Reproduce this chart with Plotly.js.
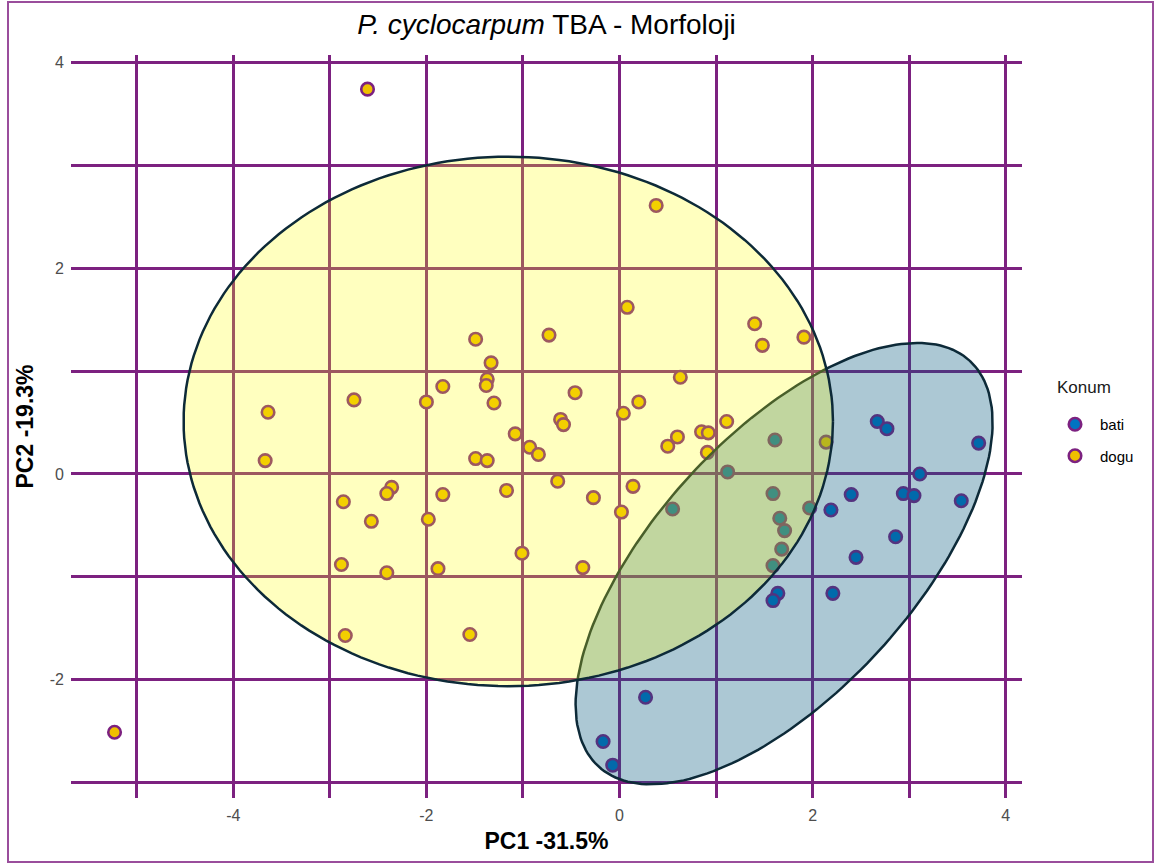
<!DOCTYPE html>
<html>
<head>
<meta charset="utf-8">
<script src="https://cdn.plot.ly/plotly-3.0.1.min.js"></script>
<style>
  html, body { margin: 0; padding: 0; background: #ffffff; }
  #chart { width: 1157px; height: 865px; }
</style>
</head>
<body>
<div id="chart"></div>
<script>
// PCA scores, group "bati"
const batiPC1 = [0.55, 1.12, 1.61, 1.59, 1.97, 1.66, 1.71, 1.68, 1.59, 1.64, 1.59, 2.21, 2.19,
                 2.40, 2.67, 2.77, 3.72, 3.11, 2.94, 3.05, 3.54, 2.86, 2.45, 0.27, -0.17, -0.07];
const batiPC2 = [-0.34, 0.02, 0.33, -0.19, -0.33, -0.43, -0.55, -0.73, -0.89, -1.16, -1.23, -1.16, -0.35,
                 -0.20, 0.51, 0.44, 0.30, 0.00, -0.19, -0.21, -0.26, -0.61, -0.81, -2.17, -2.60, -2.83];

// PCA scores, group "dogu"
const doguPC1 = [-2.61, 0.38, -3.64, -3.67, -2.75, -2.86, -2.57, -2.36, -2.41, -2.88, -2.41, -2.84,
                 -2.00, -1.83, -1.98, -1.83, -1.88, -1.55, -1.49, -1.33, -1.37, -1.38, -1.30, -1.49,
                 -1.37, -1.08, -0.93, -0.84, -1.17, -1.01, -0.73, -0.46, -0.61, -0.58, -0.64, -0.27,
                 -0.38, 0.08, 0.04, 0.20, 0.14, 0.02, 0.63, 0.50, 0.60, 0.85, 0.92, 0.91, 1.11,
                 1.40, 1.48, 1.91, 2.14, -5.23];
const doguPC2 = [3.74, 2.61, 0.60, 0.13, 0.72, -0.27, -0.46, -0.13, -0.19, -0.88, -0.96, -1.57,
                 0.70, 0.85, -0.44, -0.20, -0.92, -1.56, 1.31, 1.08, 0.92, 0.86, 0.69, 0.15,
                 0.13, 0.39, 0.26, 0.19, -0.16, -0.77, 1.35, 0.79, 0.53, 0.48, -0.07, -0.23,
                 -0.91, 1.62, 0.59, 0.70, -0.12, -0.37, 0.94, 0.27, 0.36, 0.41, 0.40, 0.21, 0.51,
                 1.46, 1.25, 1.33, 0.31, -2.51];

// Confidence ellipses per group: centre and two conjugate semi-axis vectors
const ellipseGroup = ['bati', 'dogu'];
const ellipseCenterPC1 = [1.705, -1.152];
const ellipseCenterPC2 = [-0.871, 0.511];
const ellipseAxisA = [[1.924, 1.970], [3.363, 0.0]];
const ellipseAxisB = [[-0.981, 0.849], [0.0, 2.573]];

const axisTickVals = [-5, -4, -3, -2, -1, 0, 1, 2, 3, 4];
const axisTickText = ['', '-4', '', '-2', '', '0', '', '2', '', '4'];

const titleText = '<i>P. cyclocarpum</i> TBA - Morfoloji';
const xTitle = 'PC1 -31.5%';
const yTitle = 'PC2 -19.3%';
const legendTitle = 'Konum';

// styling
const purple = '#7C2180';
const groupFill = { bati: '#0073C2', dogu: '#EFC000' };
const ellipseFill = { bati: 'rgba(4,88,125,0.33)', dogu: 'rgba(255,255,0,0.25)' };
const ellipseLine = '#0D2A38';
const fontFamily = 'Liberation Sans, Arial, sans-serif';

function ellipsePath(i) {
  const xs = [], ys = [];
  const n = 200;
  for (let k = 0; k <= n; k++) {
    const t = 2 * Math.PI * k / n;
    const c = Math.cos(t), s = Math.sin(t);
    xs.push(ellipseCenterPC1[i] + ellipseAxisA[i][0] * c + ellipseAxisB[i][0] * s);
    ys.push(ellipseCenterPC2[i] + ellipseAxisA[i][1] * c + ellipseAxisB[i][1] * s);
  }
  return { xs, ys };
}

function pointTrace(name, xs, ys, lg) {
  return {
    type: 'scatter', mode: 'markers', name: name, x: xs, y: ys,
    legendgroup: lg,
    marker: { size: 12.5, color: groupFill[name], line: { color: purple, width: 2.6 } },
    hoverinfo: 'x+y+name'
  };
}

const traces = [
  pointTrace('bati', batiPC1, batiPC2, 'g1'),
  pointTrace('dogu', doguPC1, doguPC2, 'g2')
];

// ellipses sit above the points; "bati" first, "dogu" over it
ellipseGroup.forEach((g, i) => {
  const p = ellipsePath(i);
  traces.push({
    type: 'scatter', mode: 'lines', x: p.xs, y: p.ys,
    fill: 'toself', fillcolor: ellipseFill[g],
    line: { color: ellipseLine, width: 2.5 },
    showlegend: false, hoverinfo: 'skip'
  });
});

// plot-area geometry in pixels
const W = 1157, H = 865, L = 71, R = 1022, T = 55, B = 798;
const px = v => (v - L) / (R - L);
const py = v => (B - v) / (B - T);

const axisCommon = {
  tickvals: axisTickVals, ticktext: axisTickText,
  showgrid: true, gridcolor: purple, gridwidth: 3,
  zeroline: false, showline: false, ticks: '',
  tickfont: { family: fontFamily, size: 16, color: '#4D4D4D' },
  title: { font: { family: fontFamily, size: 23, color: '#000000', weight: 'bold' } }
};

const layout = {
  width: W, height: H,
  margin: { l: L, r: W - R, t: T, b: H - B, pad: 0 },
  paper_bgcolor: '#ffffff', plot_bgcolor: '#ffffff',
  font: { family: fontFamily },
  title: {
    text: titleText, xref: 'paper', x: 0.5, xanchor: 'center',
    yref: 'container', y: 1 - 24 / H, yanchor: 'middle',
    font: { size: 28, color: '#000000' }
  },
  xaxis: Object.assign({}, axisCommon, {
    range: [-5.681, 4.169], ticklabelstandoff: 6,
    title: Object.assign({}, axisCommon.title, { text: '<b>' + xTitle + '</b>', standoff: 9 })
  }),
  yaxis: Object.assign({}, axisCommon, {
    range: [-3.149, 4.072], ticklabelstandoff: 6,
    title: Object.assign({}, axisCommon.title, { text: '<b>' + yTitle + '</b>', standoff: 9 })
  }),
  showlegend: true,
  legend: {
    x: px(1050), y: py(408), xanchor: 'left', yanchor: 'top',
    font: { size: 15, color: '#000000' },
    itemwidth: 40,
    traceorder: 'grouped', tracegroupgap: 9,
    bgcolor: 'rgba(0,0,0,0)'
  },
  annotations: [{
    text: legendTitle, xref: 'paper', yref: 'paper',
    x: px(1055), y: py(387), xanchor: 'left', yanchor: 'middle',
    showarrow: false, font: { family: fontFamily, size: 17, color: '#1A1A1A' }
  }],
  shapes: [{
    type: 'rect', xref: 'paper', yref: 'paper',
    x0: px(8), x1: px(1153), y0: py(862), y1: py(2),
    line: { color: '#9A4E9C', width: 2 }, fillcolor: 'rgba(0,0,0,0)', layer: 'above'
  }]
};

Plotly.newPlot('chart', traces, layout, { displayModeBar: false, staticPlot: true });
</script>
</body>
</html>
